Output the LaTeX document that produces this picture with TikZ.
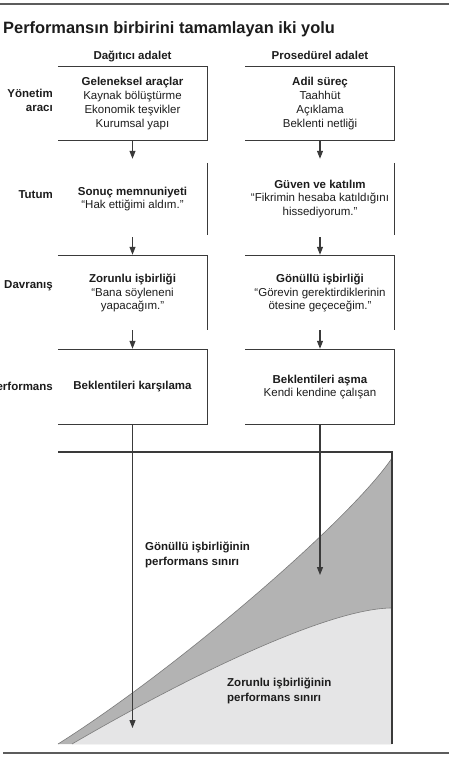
\documentclass[tikz,border=0pt]{standalone}
\usepackage{fontspec}
\setmainfont{Liberation Sans}
\usetikzlibrary{arrows.meta}

\definecolor{linegray}{HTML}{3A3A3A}
\definecolor{textgray}{HTML}{1C1C1C}
\definecolor{rulegray}{HTML}{5C5C5C}
\definecolor{darkfill}{HTML}{B3B3B3}
\definecolor{lightfill}{HTML}{E5E5E6}
\definecolor{curvegray}{HTML}{7A7A7A}

\tikzset{
  box/.style={minimum width=149pt, minimum height=74pt, inner sep=0pt, align=center,
    text=textgray, font=\fontsize{11.5}{13.8}\selectfont},
  rowlbl/.style={anchor=base east, inner sep=0pt, text=textgray,
    font=\fontsize{11.5}{14.5}\selectfont\bfseries},
  chartlbl/.style={anchor=west, inner sep=0pt, align=left, text=textgray,
    font=\fontsize{11.5}{15}\selectfont\bfseries},
  edge/.style={draw=linegray, line width=1.1pt},
  arr/.style={draw=linegray, line width=1.1pt, -{Triangle[length=8pt,width=6pt]}},
  rule/.style={draw=rulegray, line width=1.8pt}
}

\begin{document}
\begin{tikzpicture}[x=1pt, y=-1pt]
    \useasboundingbox (0,0) rectangle (454,758);
    \clip (0,0) rectangle (454,758);

    % çizgiler ve başlık
    \draw[rule] (0,4) -- (449,4);
    \draw[rule] (3,753) -- (449,753);
    \node[anchor=base west, inner sep=0pt, text=textgray, font=\fontsize{16.4}{19}\selectfont\bfseries] (title) at (3,33.3) {Performansın birbirini tamamlayan iki yolu};
    \node[anchor=base, inner sep=0pt, text=textgray, font=\fontsize{11.5}{14}\selectfont\bfseries] (headL) at (132.5,59.3) {Dağıtıcı adalet};
    \node[anchor=base, inner sep=0pt, text=textgray, font=\fontsize{11.5}{14}\selectfont\bfseries] (headR) at (320,59.3) {Prosedürel adalet};

    % satır etiketleri
    \node[rowlbl, anchor=east, align=right] (lblYon) at (53,100.6) {Yönetim\\aracı};
    \node[rowlbl] (lblTut) at (53,198.3) {Tutum};
    \node[rowlbl] (lblDav) at (53,288.3) {Davranış};
    \node[rowlbl] (lblPerf) at (53,390.7) {Performans};

    % performans eğrileri
    \fill[darkfill] (58,744) .. controls (180,667) and (352,518) .. (392,458) -- (392,744) -- cycle;
    \draw[curvegray, line width=0.6pt] (58,744) .. controls (180,667) and (352,518) .. (392,458);
    \fill[lightfill] (72,744) .. controls (192,674) and (330,608) .. (392,608) -- (392,744) -- cycle;
    \draw[curvegray, line width=0.6pt] (72,744) .. controls (192,674) and (330,608) .. (392,608);
    \draw[edge] (58,452) -- (392,452) -- (392,744);
    \node[chartlbl] (gonSinir) at (145,555.2) {Gönüllü işbirliğinin\\performans sınırı};
    \node[chartlbl] (zorSinir) at (227,690.7) {Zorunlu işbirliğinin\\performans sınırı};

    % sol sütun
    \node[box, minimum height=73pt] (yonL) at (132.5,103.5) {\textbf{Geleneksel araçlar}\\Kaynak bölüştürme\\Ekonomik teşvikler\\Kurumsal yapı};
    \node[box, minimum height=72pt] (tutL) at (132.5,199) {\textbf{Sonuç memnuniyeti}\\“Hak ettiğimi aldım.”};
    \node[box] (davL) at (132.5,293) {\textbf{Zorunlu işbirliği}\\“Bana söyleneni\\yapacağım.”};
    \node[box] (perfL) at (132.5,387) {\textbf{Beklentileri karşılama}};

    % sağ sütun
    \node[box, minimum height=73pt] (yonR) at (320,103.5) {\textbf{Adil süreç}\\Taahhüt\\Açıklama\\Beklenti netliği};
    \node[box, minimum height=72pt] (tutR) at (320,199) {\textbf{Güven ve katılım}\\“Fikrimin hesaba katıldığını\\hissediyorum.”};
    \node[box] (davR) at (320,293) {\textbf{Gönüllü işbirliği}\\“Görevin gerektirdiklerinin\\ötesine geçeceğim.”};
    \node[box] (perfR) at (320,387) {\textbf{Beklentileri aşma}\\Kendi kendine çalışan};

    % kutu kenarları
    \draw[edge] (yonL.north west) -- (yonL.north east) -- (yonL.south east) -- (yonL.south west);
    \draw[edge] (tutL.north east) -- (tutL.south east);
    \draw[edge] (davL.north west) -- (davL.north east) -- (davL.south east);
    \draw[edge] (perfL.north west) -- (perfL.north east) -- (perfL.south east) -- (perfL.south west);
    \draw[edge] (yonR.north west) -- (yonR.north east) -- (yonR.south east) -- (yonR.south west);
    \draw[edge] (tutR.north east) -- (tutR.south east);
    \draw[edge] (davR.north west) -- (davR.north east) -- (davR.south east);
    \draw[edge] (perfR.north west) -- (perfR.north east) -- (perfR.south east) -- (perfR.south west);

    % oklar
    \coordinate (endL) at (132.5,728);
    \coordinate (endR) at (320,575);
    \draw[arr, shorten >=4pt] (yonL) -- (tutL);
    \draw[arr, shorten <=2pt, shorten >=1pt] (tutL) -- (davL);
    \draw[arr, shorten >=1pt] (davL) -- (perfL);
    \draw[arr] (perfL) -- (endL);
    \draw[arr, shorten >=4pt] (yonR) -- (tutR);
    \draw[arr, shorten <=2pt, shorten >=1pt] (tutR) -- (davR);
    \draw[arr, shorten >=1pt] (davR) -- (perfR);
    \draw[arr] (perfR) -- (endR);
\end{tikzpicture}
\end{document}
